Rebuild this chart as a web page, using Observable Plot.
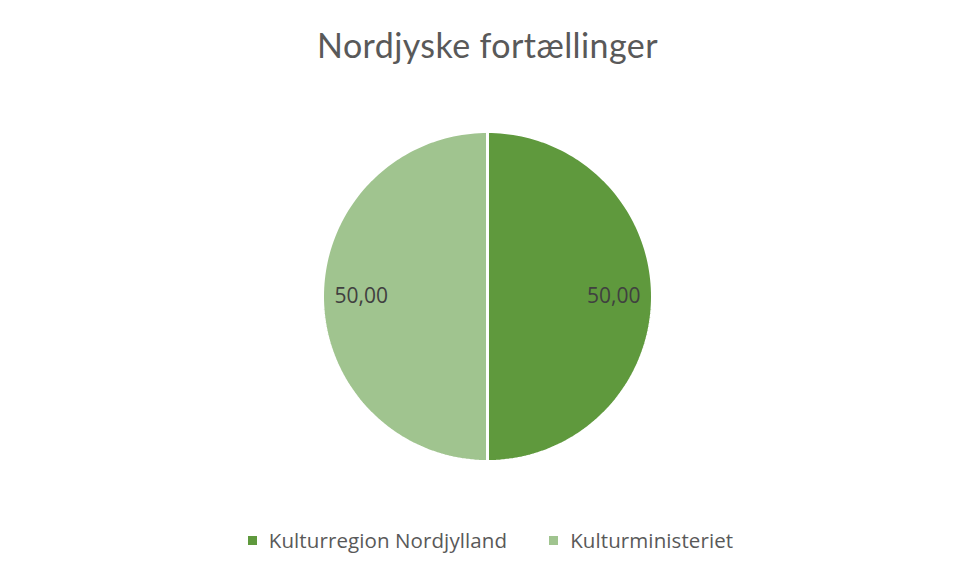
<!DOCTYPE html>
<html>
<head>
<meta charset="utf-8">
<script src="https://cdn.jsdelivr.net/npm/d3@7"></script>
<script src="https://cdn.jsdelivr.net/npm/@observablehq/plot@0.6"></script>
<style>
  html, body { margin: 0; padding: 0; background: #fff; }
  #wrap { position: relative; width: 955px; height: 574px; overflow: hidden; }
  #title { position: absolute; left: 10px; top: 28px; width: 955px; text-align: center;
           font-family: Lato, "Open Sans", sans-serif; font-size: 34px; letter-spacing: 0.4px; line-height: 1; color: #595959; }
  #chart { position: absolute; left: 0; top: 0; }
  #legend { position: absolute; left: 13px; top: 527px; width: 955px; display: flex; justify-content: center;
            font-family: "Open Sans", sans-serif; font-size: 20.5px; letter-spacing: 0.1px; color: #595959; line-height: 26px; }
  .item { display: flex; align-items: center; margin: 0 21px; }
  .sw { width: 9px; height: 9px; margin-right: 12px; }
</style>
</head>
<body>
<div id="wrap">
  <div id="title"></div>
  <div id="chart"></div>
  <div id="legend"></div>
</div>
<script>
const title = "Nordjyske fortællinger";
const categories = ["Kulturregion Nordjylland", "Kulturministeriet"];
const values = [50, 50];
const labels = ["50,00", "50,00"];
const colors = ["#5f993d", "#a0c48f"];

document.getElementById("title").textContent = title;

const data = categories.map((name, i) => ({name, value: values[i], label: labels[i]}));
const arcs = d3.pie().sort(null).value(d => d.value)(data);

// polygon points for each slice, from the pie layout
const pts = [];
arcs.forEach(a => {
  pts.push({name: a.data.name, x: 0, y: 0});
  const n = 120;
  for (let k = 0; k <= n; k++) {
    const t = a.startAngle + (a.endAngle - a.startAngle) * k / n;
    pts.push({name: a.data.name, x: Math.sin(t), y: Math.cos(t)});
  }
  pts.push({name: a.data.name, x: 0, y: 0});
});
const labelR = 0.765;
const lab = arcs.map(a => {
  const m = (a.startAngle + a.endAngle) / 2;
  return {name: a.data.name, label: a.data.label, x: labelR * Math.sin(m), y: labelR * Math.cos(m)};
});

const cx = 487, cy = 296, R = 165, W = 955, H = 574;
const chart = Plot.plot({
  width: W, height: H,
  marginLeft: cx - R, marginRight: W - (cx + R),
  marginTop: cy - R, marginBottom: H - (cy + R),
  x: {domain: [-1, 1], axis: null},
  y: {domain: [-1, 1], axis: null},
  color: {domain: categories, range: colors},
  style: {background: "transparent", overflow: "visible"},
  marks: [
    Plot.line(pts, {x: "x", y: "y", z: "name", fill: "name", stroke: "white", strokeWidth: 3, strokeLinejoin: "round", curve: "linear"}),
    Plot.text(lab, {x: "x", y: "y", text: "label", fill: "#404040", fontSize: 21, fontFamily: "Open Sans, sans-serif"})
  ]
});
document.getElementById("chart").appendChild(chart);

const legend = document.getElementById("legend");
categories.forEach((c, i) => {
  const it = document.createElement("div");
  it.className = "item";
  const sw = document.createElement("span");
  sw.className = "sw";
  sw.style.background = colors[i];
  const tx = document.createElement("span");
  tx.textContent = c;
  it.appendChild(sw); it.appendChild(tx);
  legend.appendChild(it);
});
</script>
</body>
</html>
